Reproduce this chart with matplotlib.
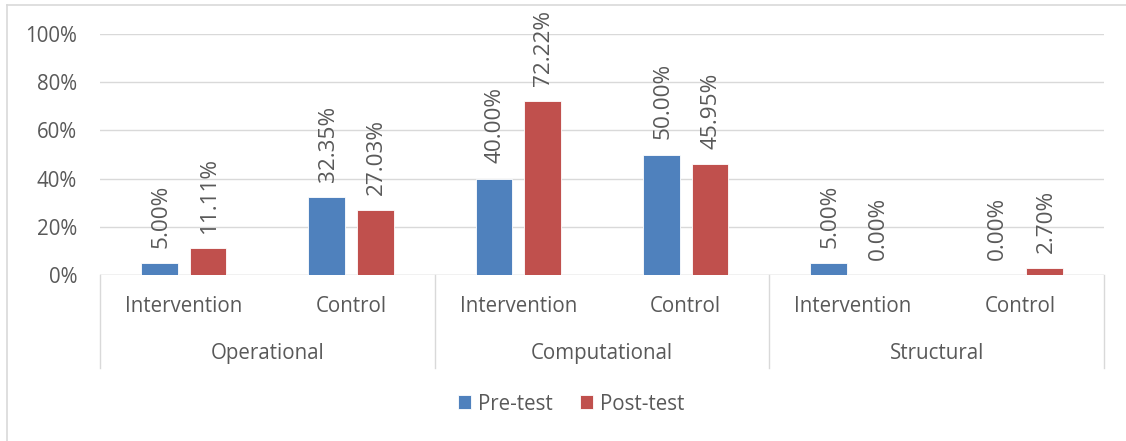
import matplotlib
matplotlib.use("Agg")
import matplotlib.pyplot as plt
from matplotlib.lines import Line2D
import numpy as np

groups = ["Operational", "Computational", "Structural"]
subgroups = ["Intervention", "Control", "Intervention", "Control", "Intervention", "Control"]
pre_test = [5.00, 32.35, 40.00, 50.00, 5.00, 0.00]
post_test = [11.11, 27.03, 72.22, 45.95, 0.00, 2.70]
series_names = ["Pre-test", "Post-test"]
yticks = [0, 20, 40, 60, 80, 100]

BLUE = "#4F81BD"
RED = "#C0504D"
TXT = "#595959"
GRID = "#D9D9D9"
FS = 14.8
FS_LAB = 16.2

plt.rcParams['font.family'] = ['Open Sans', 'DejaVu Sans']

W, H = 1126, 441
fig = plt.figure(figsize=(W / 100, H / 100), dpi=100)

# chart border (partially visible)
fig.add_artist(Line2D([7 / W, 7 / W], [0, 1 - 5 / H], color=GRID, lw=1.2, transform=fig.transFigure))
fig.add_artist(Line2D([7 / W, 1], [1 - 5 / H, 1 - 5 / H], color=GRID, lw=1.2, transform=fig.transFigure))

left, right, top, bottom = 100, 1104, 34, 275
ax = fig.add_axes([left / W, 1 - bottom / H, (right - left) / W, (bottom - top) / H])

x = np.arange(len(subgroups)) + 0.5
bw = 0.22
off = 0.145
b1 = ax.bar(x - off, pre_test, bw, color=BLUE, edgecolor="white", linewidth=0.6, label=series_names[0], zorder=3)
b2 = ax.bar(x + off, post_test, bw, color=RED, edgecolor="white", linewidth=0.6, label=series_names[1], zorder=3)

for bars, vals in ((b1, pre_test), (b2, post_test)):
    for rect, v in zip(bars, vals):
        ax.annotate(f"{v:.2f}%", (rect.get_x() + rect.get_width() / 2, v),
                    xytext=(1, 11), textcoords="offset points", rotation=90,
                    ha="center", va="bottom", fontsize=FS_LAB, color=TXT,
                    annotation_clip=False)

ax.set_xlim(0, len(subgroups))
ax.set_ylim(0, 100)
ax.set_yticks(yticks)
ax.set_yticklabels([f"{t}%" for t in yticks])
ax.tick_params(axis="y", length=0, pad=16.5, labelsize=FS, labelcolor=TXT)
ax.tick_params(axis="x", length=0, labelbottom=False)
ax.grid(axis="y", color=GRID, linewidth=1, zorder=0)
for s in ax.spines.values():
    s.set_visible(False)
ax.axhline(0, color=GRID, lw=1, zorder=2)

tr = ax.get_xaxis_transform()
for xi, lab in zip(x, subgroups):
    ax.text(xi, -0.129, lab, transform=tr, ha="center", va="center", fontsize=FS, color=TXT)
for gi, g in enumerate(groups):
    ax.text(2 * gi + 1, -0.324, g, transform=tr, ha="center", va="center", fontsize=FS, color=TXT)
for xs in range(0, len(subgroups) + 1, 2):
    ax.add_line(Line2D([xs, xs], [0, -0.386], transform=tr, color=GRID, lw=1, clip_on=False))

fig.legend(handles=[b1, b2], labels=series_names, loc="center",
           bbox_to_anchor=(571 / W, 1 - 404 / H), ncol=2, frameon=False,
           fontsize=FS, labelcolor=TXT, handlelength=0.65, handleheight=0.65,
           handletextpad=0.35, columnspacing=1.3)

fig.savefig("out.png", dpi=100, facecolor="white")
